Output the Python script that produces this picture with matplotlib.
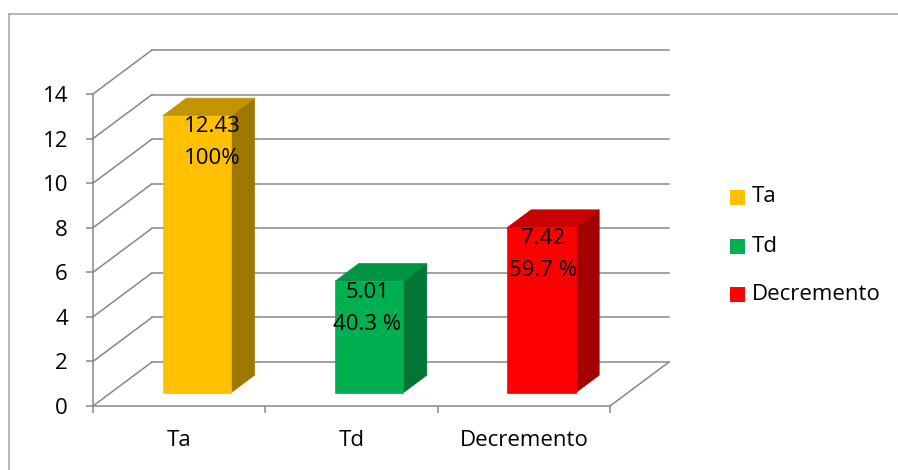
import matplotlib
matplotlib.use("Agg")
import matplotlib.pyplot as plt
from matplotlib.patches import Polygon, Rectangle
from matplotlib.lines import Line2D
from matplotlib.transforms import IdentityTransform

plt.rcParams['font.family'] = ['Open Sans', 'DejaVu Sans']

# chart data
categories = ["Ta", "Td", "Decremento"]
values = [12.43, 5.01, 7.42]
percent_labels = ["100%", "40.3 %", "59.7 %"]
yticks = [0, 2, 4, 6, 8, 10, 12, 14]

face_colors = ["#FFC000", "#00B050", "#FF0000"]
top_colors = ["#C49400", "#009544", "#C80000"]
side_colors = ["#9E7700", "#007536", "#A30000"]

W, H = 898, 470
DEPTH = (59, 44)            # depth of the 3d box, pixels right / up
BAR_D0, BAR_D1 = 0.30, 0.70  # bar front / back as fraction of depth
BAR_W = 0.395
GRID = "#878787"
FS = 16
label_nudge = [15, -2, 2]

fig = plt.figure(figsize=(W / 100, H / 100), dpi=100)
ax = fig.add_axes([93 / W, (H - 406) / H, 517 / W, 312 / H])
ax.set_xlim(0, 3)
ax.set_ylim(0, 14)
ax.patch.set_visible(False)
for s in ["top", "right"]:
    ax.spines[s].set_visible(False)
for s in ["left", "bottom"]:
    ax.spines[s].set_color(GRID)
    ax.spines[s].set_linewidth(1.1)

ident = IdentityTransform()


def proj(x, y, d):
    """data point pushed back by fraction d of the box depth, in pixels"""
    px, py = ax.transData.transform((x, y))
    return px + d * DEPTH[0], py + d * DEPTH[1]


def seg(p, q):
    ax.add_line(Line2D([p[0], q[0]], [p[1], q[1]], transform=ident,
                       color=GRID, lw=1.1, clip_on=False, zorder=1))


# back wall + side wall gridlines, floor edge
for v in yticks:
    seg(proj(0, v, 1), proj(3, v, 1))
    seg(proj(0, v, 0), proj(0, v, 1))
seg(proj(3, 0, 0), proj(3, 0, 1))

# bars
for i, v in enumerate(values):
    x0 = i + 0.5 - BAR_W / 2
    x1 = x0 + BAR_W
    front = [proj(x0, 0, BAR_D0), proj(x1, 0, BAR_D0),
             proj(x1, v, BAR_D0), proj(x0, v, BAR_D0)]
    side = [proj(x1, 0, BAR_D0), proj(x1, 0, BAR_D1),
            proj(x1, v, BAR_D1), proj(x1, v, BAR_D0)]
    top = [proj(x0, v, BAR_D0), proj(x1, v, BAR_D0),
           proj(x1, v, BAR_D1), proj(x0, v, BAR_D1)]
    for pts, c in ((side, side_colors[i]), (top, top_colors[i]), (front, face_colors[i])):
        ax.add_patch(Polygon(pts, closed=True, transform=ident, facecolor=c,
                             edgecolor=c, lw=0.5, clip_on=False, zorder=3))
    cx, cy = proj(i + 0.5, v, BAR_D0)
    cx += label_nudge[i]
    ax.text(cx, cy - 11, f"{v:.2f}", transform=ident, ha="center", va="center",
            fontsize=FS, zorder=5)
    ax.text(cx, cy - 43, percent_labels[i], transform=ident, ha="center",
            va="center", fontsize=FS, zorder=5)

# axes ticks
ax.set_yticks(yticks)
ax.set_yticklabels([str(t) for t in yticks], fontsize=FS)
ax.tick_params(axis="y", length=5, width=1.1, color=GRID, pad=13)
ax.set_xticks([0, 1, 2, 3])
ax.set_xticklabels([])
ax.tick_params(axis="x", which="major", length=5, width=1.1, color=GRID)
ax.set_xticks([0.5, 1.5, 2.5], minor=True)
ax.set_xticklabels(categories, minor=True, fontsize=FS)
ax.tick_params(axis="x", which="minor", length=0, pad=17)

# legend
leg_y = [197, 246, 294]
for name, c, y in zip(categories, face_colors, leg_y):
    fig.add_artist(Rectangle((730, H - y - 7.5), 15, 15, transform=ident,
                             facecolor=c, edgecolor="none"))
    fig.text(752, H - y, name, transform=ident, va="center", fontsize=FS)

# chart area border
fig.add_artist(Line2D([9 / W, 9 / W], [0, (H - 14) / H], transform=fig.transFigure,
                      color="#A0A0A0", lw=1.1))
fig.add_artist(Line2D([9 / W, 1], [(H - 14) / H, (H - 14) / H],
                      transform=fig.transFigure, color="#A0A0A0", lw=1.1))

fig.savefig("out.png", dpi=100)
